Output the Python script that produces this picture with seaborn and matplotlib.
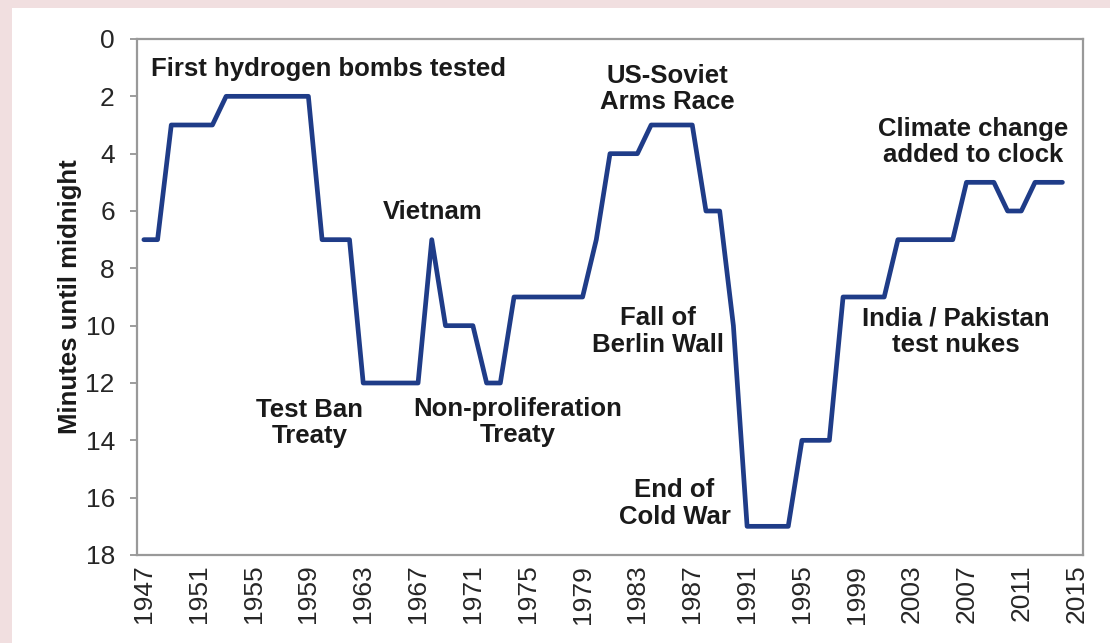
import seaborn as sns
import matplotlib.pyplot as plt
from matplotlib.patches import Rectangle

# minutes to midnight, one value per year 1947-2014
years = list(range(1947, 2015))
minutes = [7, 7, 3, 3, 3, 3, 2, 2, 2, 2, 2, 2, 2,
           7, 7, 7, 12, 12, 12, 12, 12, 7, 10,
           10, 10, 12, 12, 9, 9, 9, 9, 9, 9,
           7, 4, 4, 4, 3, 3, 3, 3, 6, 6,
           10, 17, 17, 17, 17, 14, 14, 14, 9, 9,
           9, 9, 7, 7, 7, 7, 7, 5, 5, 5,
           6, 6, 5, 5, 5]

tick_years = list(range(1947, 2016, 4))
y_ticks = list(range(0, 19, 2))

events = ['First hydrogen bombs tested', 'US-Soviet\nArms Race',
          'Climate change\nadded to clock', 'Vietnam', 'Test Ban\nTreaty',
          'Non-proliferation\nTreaty', 'Fall of\nBerlin Wall',
          'End of\nCold War', 'India / Pakistan\ntest nukes']
event_x = [1960.5, 1985.2, 2007.5, 1968.1, 1959.1, 1974.3, 1984.5, 1985.7, 2006.2]
event_y = [1.05, 1.75, 3.6, 6.05, 13.4, 13.35, 10.2, 16.2, 10.2]

sns.set_theme(style='white')
plt.rcParams['font.family'] = ['Liberation Sans', 'DejaVu Sans']

fig = plt.figure(figsize=(11.1, 6.43), dpi=100)
fig.patch.set_facecolor('#f1dfe0')
fig.add_artist(Rectangle((12 / 1110, 0), 1, 1 - 8 / 643, transform=fig.transFigure,
                         facecolor='white', edgecolor='none', zorder=-10))

ax = fig.add_axes([137 / 1110, 1 - 555 / 643, 946 / 1110, 516 / 643])
ax.set_facecolor('white')

sns.lineplot(x=years, y=minutes, ax=ax, color='#1f3c88', linewidth=3.4)

ax.set_xlim(1946.5, 2015.5)
ax.set_ylim(18, 0)
ax.set_xticks(tick_years)
ax.set_xticklabels([str(y) for y in tick_years], rotation=90, fontsize=19, color='#262626')
ax.set_yticks(y_ticks)
ax.set_yticklabels([str(v) for v in y_ticks], fontsize=19, color='#262626')
ax.tick_params(axis='x', length=0, pad=7)
ax.tick_params(axis='y', length=5, width=1.2, color='#8c8c8c', pad=11, left=True)

for side in ['left', 'right', 'top', 'bottom']:
    ax.spines[side].set_color('#999999')
    ax.spines[side].set_linewidth(1.6)

ax.set_ylabel('Minutes until midnight', fontsize=18.5, fontweight='bold', color='#1a1a1a')
ax.yaxis.set_label_coords(-0.058, 0.5)

for label, x, y in zip(events, event_x, event_y):
    ax.text(x, y, label, ha='center', va='center', fontsize=18.5, fontweight='bold',
            color='#1a1a1a', linespacing=1.12)

plt.savefig('out.png', dpi=100)
